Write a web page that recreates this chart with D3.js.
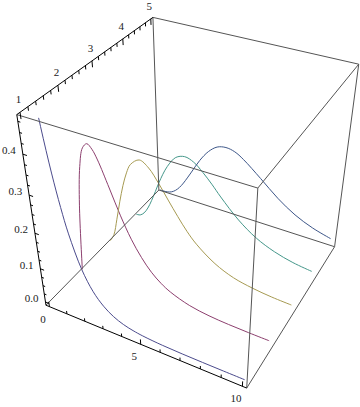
<!DOCTYPE html>
<html><head><meta charset="utf-8">
<script src="https://cdn.jsdelivr.net/npm/d3@7"></script>
<style>
body{margin:0;background:#fff;}
</style>
</head><body><div id="chart"></div>
<script>
// gamma-shaped densities, one row per depth position
const xs     = [0, 0.25, 0.5, 0.75, 1, 1.25, 1.5, 2, 2.5, 3, 3.5, 4, 4.5, 5, 6, 7, 8, 9, 10];
const depths = [1, 2, 3, 4, 5];
const k1 = [1.0, 0.779, 0.607, 0.472, 0.368, 0.287, 0.223, 0.135, 0.082, 0.050, 0.030, 0.018, 0.011, 0.0067, 0.0025, 0.0009, 0.0003, 0.0001, 0.00005];
const k2 = [0, 0.195, 0.303, 0.354, 0.368, 0.358, 0.335, 0.271, 0.205, 0.149, 0.106, 0.073, 0.050, 0.034, 0.015, 0.0064, 0.0027, 0.0011, 0.0005];
const k3 = [0, 0.024, 0.076, 0.133, 0.184, 0.224, 0.251, 0.271, 0.257, 0.224, 0.185, 0.147, 0.112, 0.084, 0.045, 0.022, 0.011, 0.005, 0.0023];
const k4 = [0, 0.002, 0.013, 0.033, 0.061, 0.093, 0.126, 0.180, 0.214, 0.224, 0.216, 0.195, 0.169, 0.140, 0.089, 0.052, 0.029, 0.015, 0.0076];
const k5 = [0, 0.0001, 0.0016, 0.0062, 0.0153, 0.029, 0.047, 0.090, 0.134, 0.168, 0.189, 0.195, 0.190, 0.175, 0.134, 0.091, 0.057, 0.034, 0.019];
const seriesValues = [k1, k2, k3, k4, k5];
const xTickLabels = [0, 5, 10];
const yTickLabels = [1, 2, 3, 4, 5];
const zTickLabels = [0, 0.1, 0.2, 0.3, 0.4];
const colors = ["#4b4b8c", "#8c3f6e", "#a69a52", "#45978a", "#3d5688"];

var width = 360, height = 407;

// data -> unit box
var sx = d3.scaleLinear().domain([-0.2, 10.2]).range([0, 1]);
var sy = d3.scaleLinear().domain([0.92, 5.08]).range([0, 1]);
var sz = d3.scaleLinear().domain([-0.01, 0.49]).range([0, 1]);

// perspective camera (3x4 projection matrix, last entry 1) for the unit box
var cam = [174.42614, 143.95773, -31.912429, 45.983145,
           41.502457, -78.022133, -209.20487, 305.20844,
           -0.10659462, 0.19561095, -0.16228569];

function unit(X, Y, Z) {
  var w = cam[8]*X + cam[9]*Y + cam[10]*Z + 1;
  return [(cam[0]*X + cam[1]*Y + cam[2]*Z + cam[3]) / w, (cam[4]*X + cam[5]*Y + cam[6]*Z + cam[7]) / w];
}
function proj(x, y, z) { return unit(sx(x), sy(y), sz(z)) }

var svg = d3.select("#chart").append("svg")
    .attr("width", width).attr("height", height);

var X0 = sx.domain()[0], X1 = sx.domain()[1],
    Y0 = sy.domain()[0], Y1 = sy.domain()[1],
    Z0 = sz.domain()[0], Z1 = sz.domain()[1];

// curves, each clipped to its own plane
var defs = svg.append("defs");
var line = d3.line().curve(d3.curveCatmullRom.alpha(0.5));
depths.forEach(function(k, i) {
  var quad = [proj(X0,k,Z0), proj(X1,k,Z0), proj(X1,k,Z1), proj(X0,k,Z1)];
  defs.append("clipPath").attr("id", "clip" + i)
    .append("polygon").attr("points", quad.map(function(p) { return p.join(",") }).join(" "));
  var pts = xs.map(function(x, j) { return proj(x, k, seriesValues[i][j]) });
  svg.append("path")
    .attr("clip-path", "url(#clip" + i + ")")
    .attr("d", line(pts))
    .attr("fill", "none")
    .attr("stroke", colors[i])
    .attr("stroke-width", 1);
});

// box
var edges = [
  [[X0,Y1,Z0],[X1,Y1,Z0]], [[X0,Y1,Z0],[X0,Y1,Z1]], [[X0,Y0,Z0],[X0,Y1,Z0]],
  [[X1,Y0,Z0],[X1,Y0,Z1]], [[X1,Y0,Z0],[X1,Y1,Z0]], [[X0,Y0,Z1],[X1,Y0,Z1]],
  [[X1,Y0,Z1],[X1,Y1,Z1]], [[X0,Y1,Z1],[X1,Y1,Z1]], [[X1,Y1,Z0],[X1,Y1,Z1]]
];
svg.selectAll(".edge").data(edges).enter().append("line")
    .attr("class", "edge")
    .attr("x1", function(e) { return proj.apply(null, e[0])[0] })
    .attr("y1", function(e) { return proj.apply(null, e[0])[1] })
    .attr("x2", function(e) { return proj.apply(null, e[1])[0] })
    .attr("y2", function(e) { return proj.apply(null, e[1])[1] })
    .attr("stroke", "#555").attr("stroke-width", 1);

// axes with ticks
var axes = svg.append("g").attr("stroke", "#000").attr("stroke-width", 1);
function seg(a, b) {
  var p = proj.apply(null, a), q = proj.apply(null, b);
  axes.append("line").attr("x1", p[0]).attr("y1", p[1]).attr("x2", q[0]).attr("y2", q[1]);
}
seg([X0,Y0,Z0],[X1,Y0,Z0]);
seg([X0,Y0,Z0],[X0,Y0,Z1]);
seg([X0,Y0,Z1],[X0,Y1,Z1]);

var dz = (Z1 - Z0), dx = (X1 - X0);
d3.range(0, 11).forEach(function(x) {
  var len = xTickLabels.indexOf(x) >= 0 ? 0.03 : 0.018;
  seg([x,Y0,Z0],[x,Y0,Z0 + len*dz]);
});
d3.range(0, 21).forEach(function(j) {
  var y = 1 + j*0.2, len = j % 5 === 0 ? 0.03 : 0.018;
  seg([X0,y,Z1],[X0,y,Z1 - len*dz]);
});
d3.range(0, 20).forEach(function(j) {
  var z = j*0.025, len = j % 4 === 0 ? 0.02 : 0.012;
  seg([X0,Y0,z],[X0 + len*dx,Y0,z]);
});

var font = "'Liberation Serif', 'Times New Roman', serif";
var labels = svg.append("g").attr("font-family", font).attr("font-size", 11).attr("fill", "#222");
xTickLabels.forEach(function(x) {
  var p = proj(x, Y0, Z0);
  labels.append("text").attr("x", p[0] - 6.5).attr("y", p[1] + 16)
    .attr("text-anchor", "middle").text(d3.format("d")(x));
});
yTickLabels.forEach(function(y) {
  var p = proj(X0, y, Z1);
  labels.append("text").attr("x", p[0] - 1.5).attr("y", p[1] - 9)
    .attr("text-anchor", "middle").text(d3.format("d")(y));
});
zTickLabels.forEach(function(z) {
  var p = proj(X0, Y0, z);
  labels.append("text").attr("x", p[0] - 7).attr("y", p[1])
    .attr("text-anchor", "end").text(d3.format(".1f")(z));
});
</script></body></html>
